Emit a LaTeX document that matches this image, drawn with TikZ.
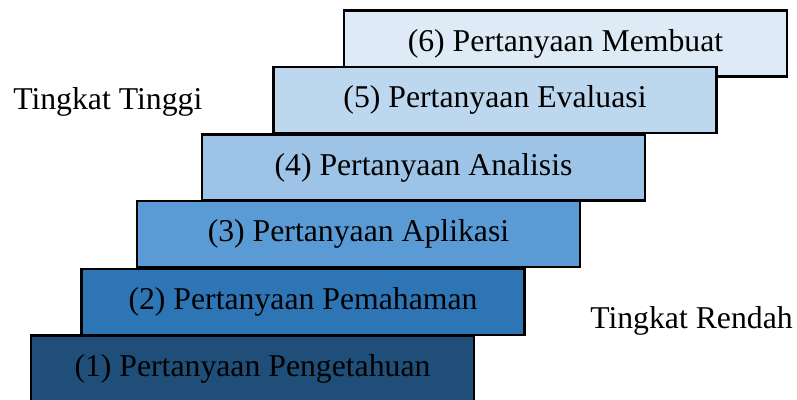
\documentclass[tikz,border=0pt]{standalone}
\usepackage{fontspec}
\setmainfont{Liberation Serif}
\definecolor{c1}{HTML}{1F4E79}
\definecolor{c2}{HTML}{2E75B6}
\definecolor{c3}{HTML}{5B9BD5}
\definecolor{c4}{HTML}{9DC3E6}
\definecolor{c5}{HTML}{BDD7EE}
\definecolor{c6}{HTML}{DEEBF7}
\tikzset{
  stepbox/.style={draw=black, line width=1.8pt, rectangle, minimum width=443*0.75pt, minimum height=66*0.75pt, inner sep=0pt, text=black, font=\fontsize{23.8}{28}\selectfont},
  sidelabel/.style={anchor=base west, inner sep=0pt, font=\fontsize{23.8}{28}\selectfont}
}
\begin{document}
\begin{tikzpicture}[x=0.75pt, y=-0.75pt]
\useasboundingbox (0,0) rectangle (797,400);
\clip (0,0) rectangle (797,400);
\node[stepbox, fill=c6] (b6) at (565.5,43.5) {(6) Pertanyaan Membuat};
\node[stepbox, fill=c5] (b5) at (495,100) {(5) Pertanyaan Evaluasi};
\node[stepbox, fill=c4] (b4) at (423.5,167.5) {(4) Pertanyaan Analisis};
\node[stepbox, fill=c3] (b3) at (358.5,234) {(3) Pertanyaan Aplikasi};
\node[stepbox, fill=c2] (b2) at (303,302) {(2) Pertanyaan Pemahaman};
\node[stepbox, fill=c1] (b1) at (252.5,368.5) {(1) Pertanyaan Pengetahuan};
\node[sidelabel] (hi) at (13,109) {Tingkat Tinggi};
\node[sidelabel] (lo) at (590,328) {Tingkat Rendah};
\end{tikzpicture}
\end{document}
